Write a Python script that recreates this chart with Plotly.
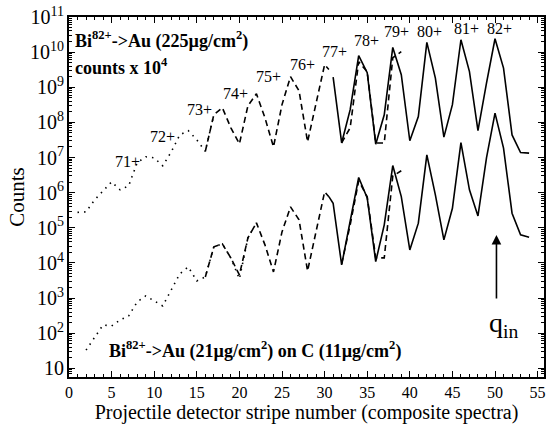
import plotly.graph_objects as go
import math

# ---------------- data ----------------
# upper group (counts x 10^4): Bi82+ -> Au (225 ug/cm2)
up_dot_x = list(range(1, 18))
up_dot_y = [2.75e5, 2.84e5, 6.2e5, 1.12e6, 2.03e6, 1.2e6, 1.56e6, 7.1e6, 1.05e7,
            9.8e6, 5.8e6, 1.45e7, 4.4e7, 5.8e7, 3.2e7, 1.5e7, 1.65e8]
up_dash_x = list(range(16, 31)) + [30.5]
up_dash_y = [1.5e7, 1.65e8, 2.6e8, 7.0e7, 2.45e7, 2.97e8, 6.5e8, 1.35e8, 2.0e7,
             3.2e8, 2.0e9, 7.9e8, 2.8e7, 3.6e8, 4.4e9, 3.2e9]
up_solid_x = list(range(31, 55))
up_solid_y = [1.95e9, 2.6e7, 2.3e8, 7.9e9, 2.6e9, 2.4e7, 1.65e8, 1.36e10, 2.27e9,
              3.0e7, 1.47e8, 1.89e10, 1.83e9, 3.8e7, 3.2e8, 2.25e10, 2.8e9, 5.8e7,
              1.32e9, 2.4e10, 3.5e9, 4.4e7, 1.39e7, 1.33e7]
up_dash2_x = list(range(32, 40))
up_dash2_y = [2.6e7, 7.0e7, 5.3e9, 2.77e9, 2.6e7, 2.6e7, 6.9e9, 1.03e10]

# lower group: Bi82+ -> Au (21 ug/cm2) on C (11 ug/cm2)
low_dot_x = list(range(2, 23))
low_dot_y = [33, 78, 171, 160, 238, 309, 775, 1150, 826, 596, 1700, 4860, 7690,
             3070, 3990, 28600, 34800, 13800, 3500, 51500, 1.38e5]
low_dash_x = list(range(16, 31)) + [30.5]
low_dash_y = [3990, 28600, 34800, 13800, 4550, 51500, 1.38e5, 32600, 5530, 76400,
              3.94e5, 1.68e5, 5920, 87100, 1.05e6, 7.6e5]
low_solid_x = [30.5] + list(range(31, 55))
low_solid_y = [7.7e5, 5.0e5, 8770, 1.38e5, 2.7e6, 7.1e5, 10900, 1.21e5, 5.9e6, 7.7e5,
               23400, 1.35e5, 1.19e7, 8.6e5, 45200, 3.6e5, 2.67e7, 1.2e6, 2.18e5,
               9.8e6, 1.84e8, 1.85e7, 2.6e5, 62800, 54000]
low_dash2_x = list(range(32, 40))
low_dash2_y = [9400, 1.21e5, 2.17e6, 7.6e5, 13900, 13900, 2.97e6, 4.2e6]

# charge state labels
charge_text = ["71+", "72+", "73+", "74+", "75+", "76+", "77+", "78+", "79+", "80+", "81+", "82+"]
charge_x = [6.84, 11.02, 15.31, 19.55, 23.38, 27.38, 31.18, 34.89, 38.49, 42.29, 46.61, 50.57]
charge_y = [7.7e6, 3.96e7, 2.29e8, 6.84e8, 2.03e9, 4.38e9, 1.05e10, 2.11e10, 3.89e10,
            3.89e10, 4.65e10, 4.65e10]

FONT = "Liberation Serif, Times New Roman, serif"
BLACK = "#000000"

fig = go.Figure()

def add_line(x, y, dash):
    fig.add_trace(go.Scatter(x=x, y=y, mode="lines",
                             line=dict(color=BLACK, width=1.6, dash=dash),
                             showlegend=False, hoverinfo="skip"))

add_line(up_dot_x, up_dot_y, "1.5px,5px")
add_line(up_dash_x, up_dash_y, "6px,4px")
add_line(up_solid_x, up_solid_y, "solid")
add_line(up_dash2_x, up_dash2_y, "6px,4px")
add_line(low_dot_x, low_dot_y, "1.5px,5px")
add_line(low_dash_x, low_dash_y, "6px,4px")
add_line(low_solid_x, low_solid_y, "solid")
add_line(low_dash2_x, low_dash2_y, "6px,4px")

ann = []
for t, x, y in zip(charge_text, charge_x, charge_y):
    ann.append(dict(x=x, y=math.log10(y), xref="x", yref="y", text=t, showarrow=False,
                    font=dict(family=FONT, size=16, color=BLACK),
                    xanchor="center", yanchor="middle"))

ann.append(dict(x=0.43, y=10.345, xref="x", yref="y",
                text="<b>Bi<sup>82+</sup>->Au (225µg/cm<sup>2</sup>)</b>",
                showarrow=False, xanchor="left", yanchor="middle",
                font=dict(family=FONT, size=18, color=BLACK)))
ann.append(dict(x=0.43, y=9.585, xref="x", yref="y",
                text="<b>counts x 10<sup>4</sup></b>",
                showarrow=False, xanchor="left", yanchor="middle",
                font=dict(family=FONT, size=18, color=BLACK)))
ann.append(dict(x=4.41, y=1.521, xref="x", yref="y",
                text="<b>Bi<sup>82+</sup>->Au (21µg/cm<sup>2</sup>) on C (11µg/cm<sup>2</sup>)</b>",
                showarrow=False, xanchor="left", yanchor="middle",
                font=dict(family=FONT, size=18, color=BLACK)))
# arrow marking q_in
ann.append(dict(x=50.17, y=4.795, ax=50.17, ay=2.944, xref="x", yref="y",
                axref="x", ayref="y", text="", showarrow=True,
                arrowhead=2, arrowsize=1.2, arrowwidth=1.6, arrowcolor=BLACK))
ann.append(dict(x=51.05, y=2.233, xref="x", yref="y", text="q<sub>in</sub>",
                showarrow=False, xanchor="center", yanchor="middle",
                font=dict(family=FONT, size=28, color=BLACK)))

fig.update_layout(
    width=548, height=425,
    margin=dict(l=69, r=2, t=17, b=48),
    paper_bgcolor="white", plot_bgcolor="white",
    font=dict(family=FONT, color=BLACK, size=16),
    annotations=ann,
    xaxis=dict(range=[0, 55.75], dtick=5, tick0=0,
               showline=True, linecolor=BLACK, linewidth=1.5, mirror="allticks",
               ticks="inside", ticklen=6, tickwidth=1.2, tickcolor=BLACK,
               minor=dict(dtick=1, ticks="inside", ticklen=3, tickwidth=1, tickcolor=BLACK),
               showgrid=False, zeroline=False,
               tickfont=dict(family=FONT, size=16),
               title=dict(text="Projectile detector stripe number (composite spectra)",
                          font=dict(family=FONT, size=20), standoff=2)),
    yaxis=dict(type="log", range=[0.752, 11], dtick=1, exponentformat="power",
               showline=True, linecolor=BLACK, linewidth=1.5, mirror="allticks",
               ticks="inside", ticklen=6, tickwidth=1.2, tickcolor=BLACK,
               minor=dict(dtick="D1", ticks="inside", ticklen=3, tickwidth=1, tickcolor=BLACK),
               showgrid=False, zeroline=False,
               tickfont=dict(family=FONT, size=16),
               title=dict(text="Counts", font=dict(family=FONT, size=21), standoff=0)),
)

fig.write_html("out.html")
